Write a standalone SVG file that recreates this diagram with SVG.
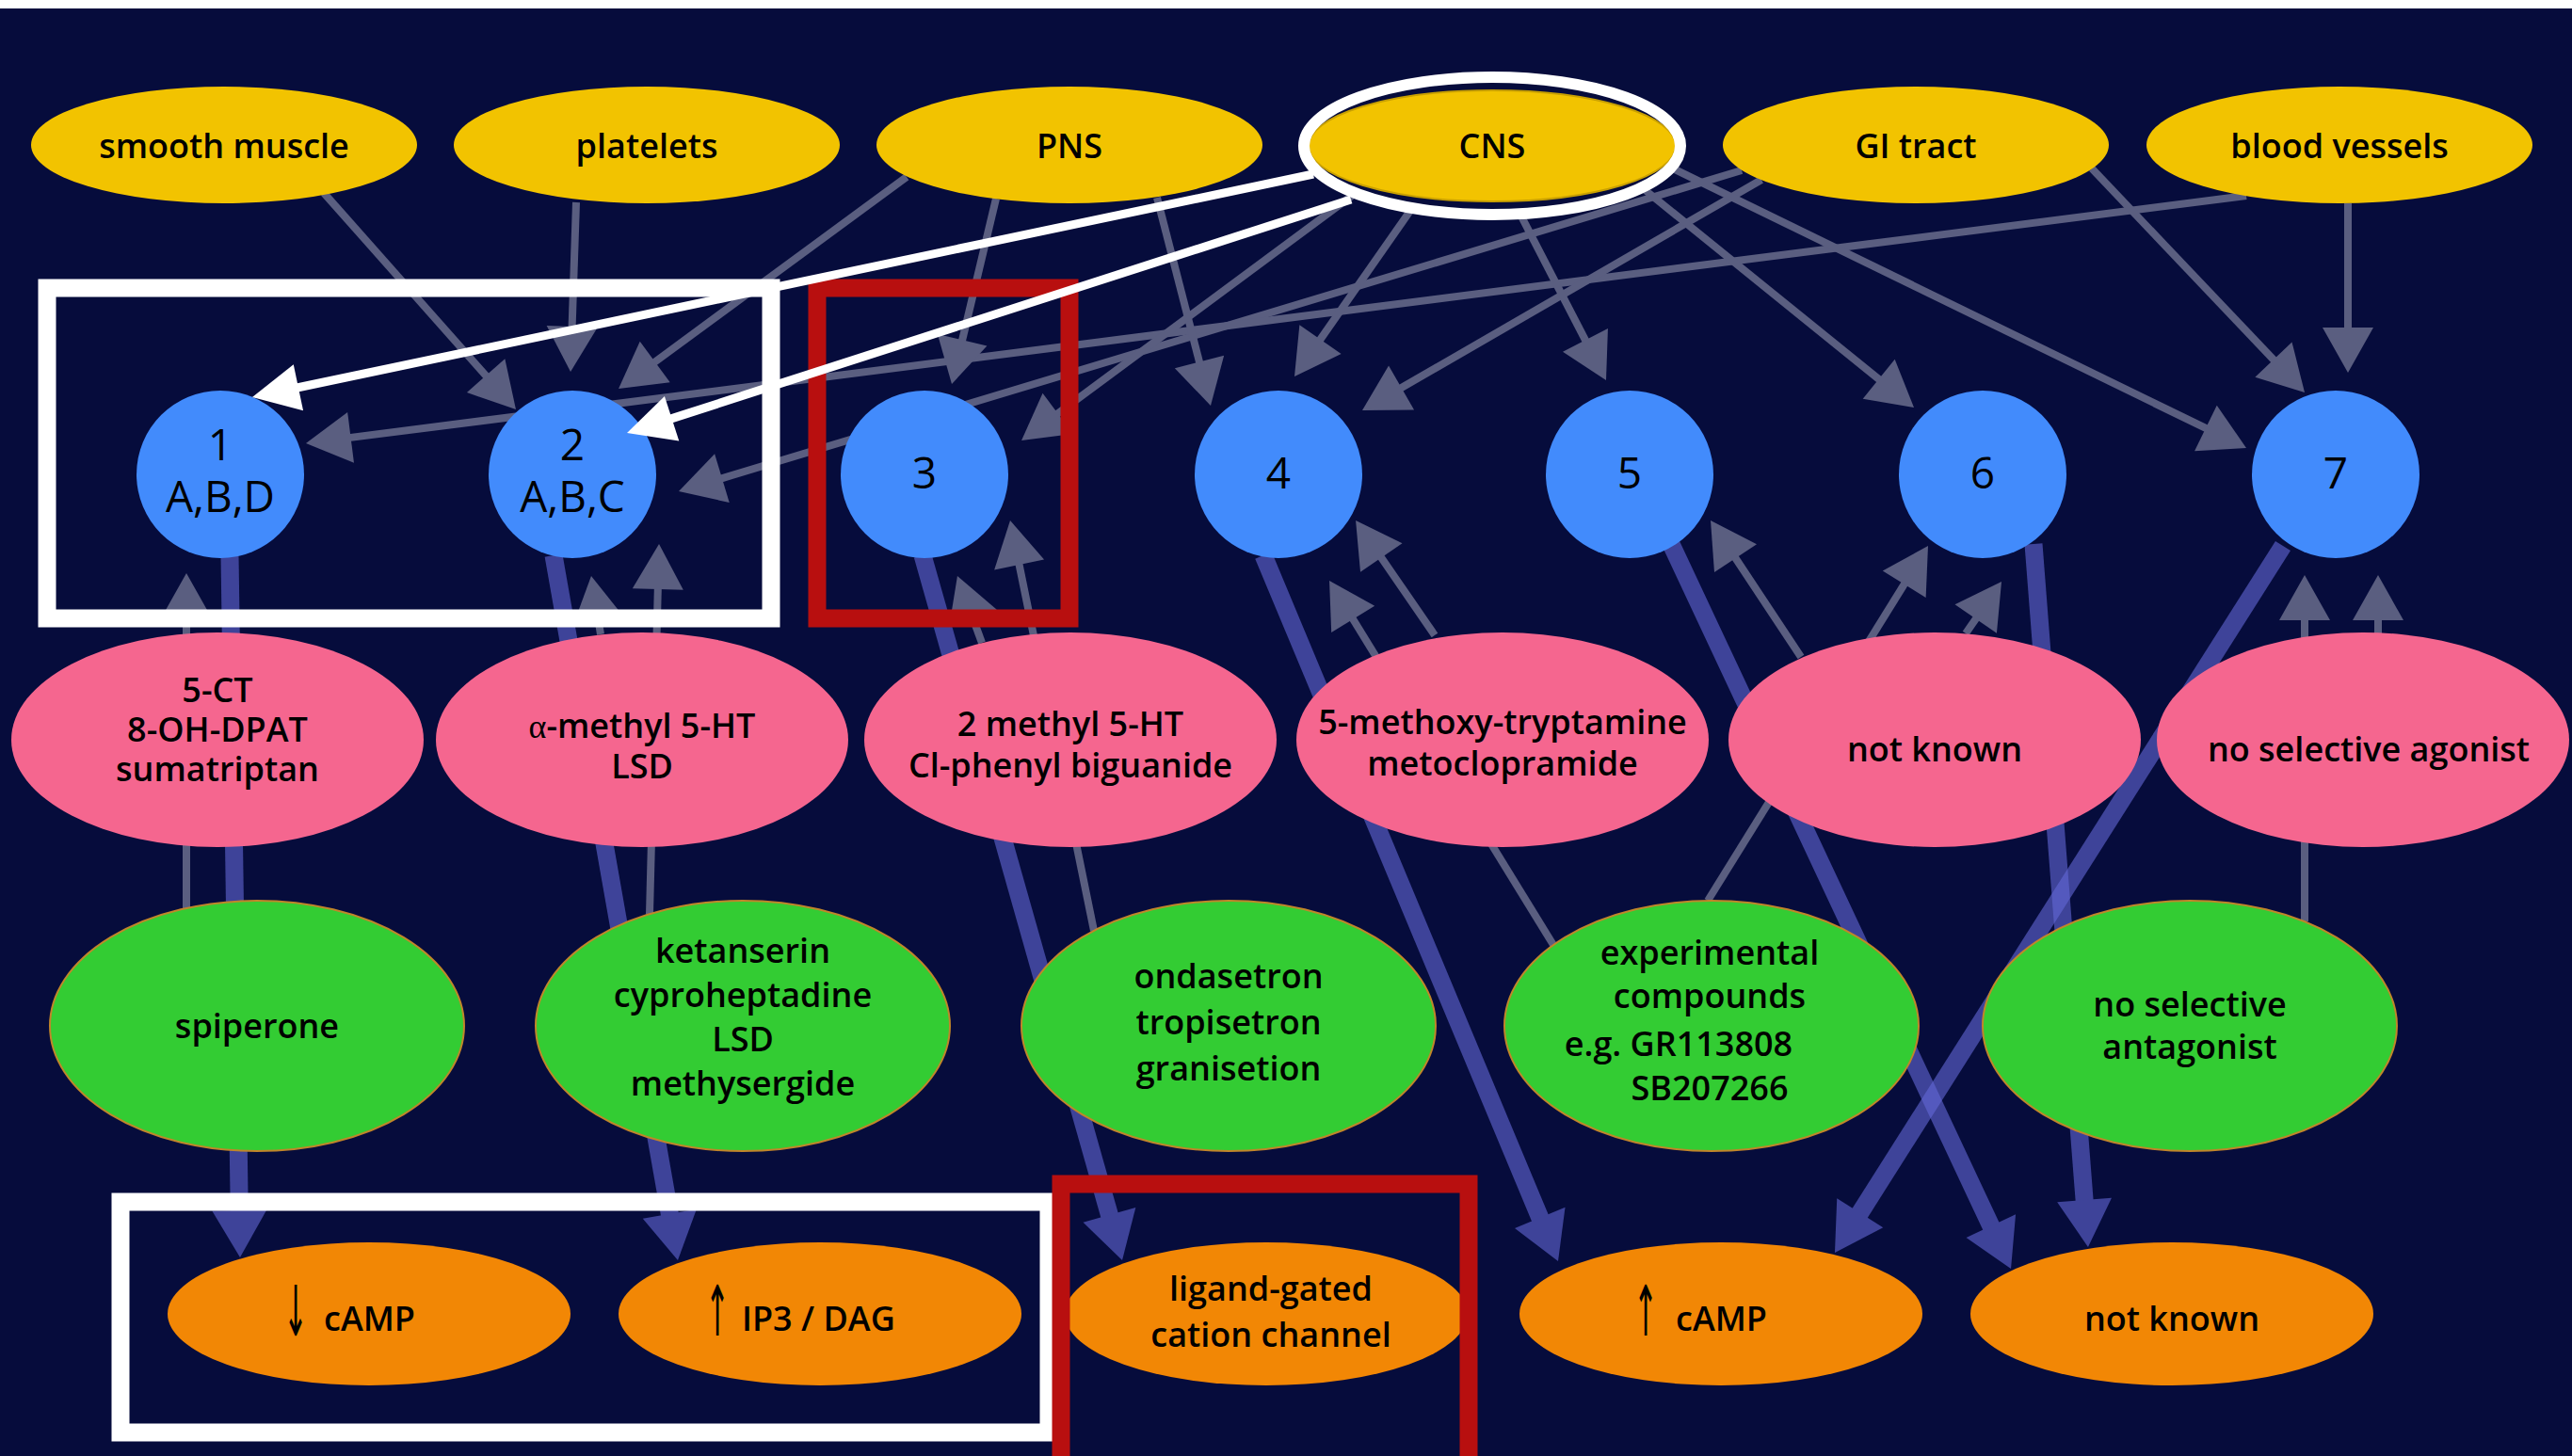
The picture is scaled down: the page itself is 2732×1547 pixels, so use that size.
<svg xmlns="http://www.w3.org/2000/svg" width="2732" height="1547" viewBox="0 0 2732 1547">
<defs>
<style>
.tis{fill:#f2c300}
.rec{fill:#428bfc}
.ago{fill:#f5668f}
.ant{fill:#33cc33;stroke:#c0862a;stroke-width:2}
.eff{fill:#f28705}
text{font-family:"Open Sans","Noto Sans",sans-serif;fill:#000;text-anchor:middle;font-size:36px;font-weight:600}
.r{font-size:46px;font-weight:500}
.arr{font-family:"DejaVu Sans",sans-serif;font-size:74px;font-weight:400}
.st{text-anchor:start}
.ga{stroke:#5a5e80;stroke-width:8;fill:none;marker-end:url(#mg)}
.wa{stroke:#ffffff;stroke-width:9;fill:none;marker-end:url(#mw)}
.ba{opacity:0.6}
.ba line{stroke:#6469d7;stroke-width:19;fill:none;marker-end:url(#mb)}
.wb{fill:none;stroke:#ffffff;stroke-width:19}
.rb{fill:none;stroke:#b80f0f;stroke-width:19}
</style>
<marker id="mg" markerUnits="userSpaceOnUse" viewBox="0 -30 60 60" markerWidth="60" markerHeight="60" refX="4" refY="0" orient="auto" overflow="visible"><path d="M0,-27L48,0L0,27z" fill="#5a5e80"/></marker>
<marker id="mw" markerUnits="userSpaceOnUse" viewBox="0 -30 60 60" markerWidth="60" markerHeight="60" refX="4" refY="0" orient="auto" overflow="visible"><path d="M0,-25L50,0L0,25z" fill="#ffffff"/></marker>
<marker id="mb" markerUnits="userSpaceOnUse" viewBox="0 -30 60 60" markerWidth="60" markerHeight="60" refX="4" refY="0" orient="auto" overflow="visible"><path d="M0,-29L50,0L0,29z" fill="#6469d7"/></marker>
</defs>
<rect x="0" y="0" width="2732" height="1547" fill="#060c3c"/>
<rect x="0" y="0" width="2732" height="9" fill="#ffffff"/>

<g id="connectors">
<g id="tissue-links">
<line class="ga" x1="344" y1="205" x2="518.8" y2="402.1"/>
<line class="ga" x1="612" y1="215" x2="607.5" y2="351"/>
<line class="ga" x1="963" y1="188" x2="692.5" y2="386.9"/>
<line class="ga" x1="1850" y1="181" x2="763.1" y2="509.3"/>
<line class="ga" x1="2386" y1="208" x2="368.6" y2="465.4"/>
<line class="ga" x1="1058" y1="211" x2="1021.2" y2="365.2"/>
<line class="ga" x1="1229" y1="210" x2="1275" y2="388.4"/>
<line class="ga" x1="1440" y1="205" x2="1120.4" y2="441.8"/>
<line class="ga" x1="1500" y1="221" x2="1400.2" y2="363.9"/>
<line class="ga" x1="1871" y1="191" x2="1485.1" y2="414"/>
<line class="ga" x1="1614" y1="226" x2="1685.8" y2="364.9"/>
<line class="ga" x1="1745" y1="200" x2="1998.8" y2="405.3"/>
<line class="ga" x1="1775" y1="178" x2="2346.5" y2="456.7"/>
<line class="ga" x1="2222" y1="179" x2="2417.7" y2="385.1"/>
<line class="ga" x1="2494" y1="216" x2="2494" y2="352"/>
</g>
<g id="drug-links">
<line class="ga" x1="198" y1="965" x2="198" y2="653"/>
<line class="ga" x1="638" y1="674" x2="635" y2="655.4"/>
<line class="ga" x1="690" y1="971" x2="698.9" y2="622"/>
<line class="ga" x1="1043" y1="683" x2="1032.1" y2="653.3"/>
<line class="ga" x1="1162" y1="989" x2="1081.8" y2="596.1"/>
<line class="ga" x1="1524" y1="675" x2="1465" y2="589.2"/>
<line class="ga" x1="1650" y1="1004" x2="1435.1" y2="654.5"/>
<line class="ga" x1="1913" y1="698" x2="1841.3" y2="589.7"/>
<line class="ga" x1="1814" y1="957" x2="2024.8" y2="617.4"/>
<line class="ga" x1="2088" y1="673" x2="2101" y2="654.2"/>
<line class="ga" x1="2448" y1="979" x2="2448" y2="655"/>
<line class="ga" x1="2526" y1="677" x2="2526" y2="655"/>
</g>
<g id="effector-links">
<g class="ba"><line x1="244" y1="590" x2="254.3" y2="1290"/></g>
<g class="ba"><line x1="588" y1="590" x2="712" y2="1293.7"/></g>
<g class="ba"><line x1="980" y1="590" x2="1179.5" y2="1294.7"/></g>
<g class="ba"><line x1="1342" y1="590" x2="1637.3" y2="1297.5"/></g>
<g class="ba"><line x1="1775" y1="578" x2="2116.5" y2="1306.3"/></g>
<g class="ba"><line x1="2160" y1="578" x2="2214.4" y2="1279.1"/></g>
<g class="ba"><line x1="2425" y1="580" x2="1973.6" y2="1292.1"/></g>
</g>
</g>

<g id="tissue-smooth-muscle"><ellipse class="tis" cx="238" cy="154" rx="205" ry="62"/><text x="238" y="168">smooth muscle</text></g>
<g id="tissue-platelets"><ellipse class="tis" cx="687" cy="154" rx="205" ry="62"/><text x="687" y="168">platelets</text></g>
<g id="tissue-pns"><ellipse class="tis" cx="1136" cy="154" rx="205" ry="62"/><text x="1136" y="168">PNS</text></g>
<g id="tissue-cns"><ellipse class="tis" cx="1585" cy="155" rx="195" ry="59" stroke="#c9a000" stroke-width="2"/><text x="1585" y="168">CNS</text></g>
<g id="tissue-gi"><ellipse class="tis" cx="2035" cy="154" rx="205" ry="62"/><text x="2035" y="168">GI tract</text></g>
<g id="tissue-blood"><ellipse class="tis" cx="2485" cy="154" rx="205" ry="62"/><text x="2485" y="168">blood vessels</text></g>

<g id="rec-1"><circle class="rec" cx="234" cy="504" r="89"/><text class="r" x="234" y="489">1</text><text class="r" x="234" y="544">A,B,D</text></g>
<g id="rec-2"><circle class="rec" cx="608" cy="504" r="89"/><text class="r" x="608" y="489">2</text><text class="r" x="608" y="544">A,B,C</text></g>
<g id="rec-3"><circle class="rec" cx="982" cy="504" r="89"/><text class="r" x="982" y="519">3</text></g>
<g id="rec-4"><circle class="rec" cx="1358" cy="504" r="89"/><text class="r" x="1358" y="519">4</text></g>
<g id="rec-5"><circle class="rec" cx="1731" cy="504" r="89"/><text class="r" x="1731" y="519">5</text></g>
<g id="rec-6"><circle class="rec" cx="2106" cy="504" r="89"/><text class="r" x="2106" y="519">6</text></g>
<g id="rec-7"><circle class="rec" cx="2481" cy="504" r="89"/><text class="r" x="2481" y="519">7</text></g>

<g id="ago-1"><ellipse class="ago" cx="231" cy="786" rx="219" ry="114"/><text x="231" y="746">5-CT</text><text x="231" y="788">8-OH-DPAT</text><text x="231" y="830">sumatriptan</text></g>
<g id="ago-2"><ellipse class="ago" cx="682" cy="786" rx="219" ry="114"/><text x="682" y="784"><tspan font-family="Liberation Serif,serif" font-weight="400">α</tspan>-methyl 5-HT</text><text x="682" y="827">LSD</text></g>
<g id="ago-3"><ellipse class="ago" cx="1137" cy="786" rx="219" ry="114"/><text x="1137" y="782">2 methyl 5-HT</text><text x="1137" y="826">Cl-phenyl biguanide</text></g>
<g id="ago-4"><ellipse class="ago" cx="1596" cy="786" rx="219" ry="114"/><text x="1596" y="780">5-methoxy-tryptamine</text><text x="1596" y="824">metoclopramide</text></g>
<g id="ago-5"><ellipse class="ago" cx="2055" cy="786" rx="219" ry="114"/><text x="2055" y="809">not known</text></g>
<g id="ago-6"><ellipse class="ago" cx="2510" cy="786" rx="219" ry="114"/><text x="2516" y="809">no selective agonist</text></g>

<g id="ant-1"><ellipse class="ant" cx="273" cy="1090" rx="220" ry="133"/><text x="273" y="1103">spiperone</text></g>
<g id="ant-2"><ellipse class="ant" cx="789" cy="1090" rx="220" ry="133"/><text x="789" y="1023">ketanserin</text><text x="789" y="1070">cyproheptadine</text><text x="789" y="1117">LSD</text><text x="789" y="1164">methysergide</text></g>
<g id="ant-3"><ellipse class="ant" cx="1305" cy="1090" rx="220" ry="133"/><text x="1305" y="1050">ondasetron</text><text x="1305" y="1099">tropisetron</text><text x="1305" y="1148">granisetion</text></g>
<g id="ant-4"><ellipse class="ant" cx="1818" cy="1090" rx="220" ry="133"/><text x="1816" y="1025">experimental</text><text x="1816" y="1071">compounds</text><text x="1783" y="1122">e.g. GR113808</text><text x="1816" y="1169">SB207266</text></g>
<g id="ant-5"><ellipse class="ant" cx="2326" cy="1090" rx="220" ry="133"/><text x="2326" y="1080">no selective</text><text x="2326" y="1125">antagonist</text></g>

<g id="eff-1"><ellipse class="eff" cx="392" cy="1396" rx="214" ry="76"/><text class="arr" transform="translate(314,1419) scale(0.42,1)">↓</text><text class="st" x="344" y="1414">cAMP</text></g>
<g id="eff-2"><ellipse class="eff" cx="871" cy="1396" rx="214" ry="76"/><text class="arr" transform="translate(762,1419) scale(0.42,1)">↑</text><text class="st" x="788" y="1414">IP3 / DAG</text></g>
<g id="eff-3"><ellipse class="eff" cx="1345" cy="1396" rx="214" ry="76"/><text x="1350" y="1382">ligand-gated</text><text x="1350" y="1431">cation channel</text></g>
<g id="eff-4"><ellipse class="eff" cx="1828" cy="1396" rx="214" ry="76"/><text class="arr" transform="translate(1748,1419) scale(0.42,1)">↑</text><text class="st" x="1780" y="1414">cAMP</text></g>
<g id="eff-5"><ellipse class="eff" cx="2307" cy="1396" rx="214" ry="76"/><text x="2307" y="1414">not known</text></g>

<g id="highlights">
<rect class="wb" x="50" y="306" width="769" height="351"/>
<rect class="rb" x="868" y="306" width="268" height="351"/>
<rect class="wb" x="128" y="1277" width="986" height="245"/>
<rect class="rb" x="1127" y="1258" width="433" height="300"/>
</g>
<g id="cns-links">
<line class="wa" x1="1395" y1="185" x2="313" y2="412.5"/>
<line class="wa" x1="1435" y1="212" x2="709.8" y2="445.9"/>
</g>
<ellipse id="cns-ring" cx="1585" cy="155" rx="200" ry="73" fill="none" stroke="#ffffff" stroke-width="12"/>
</svg>
